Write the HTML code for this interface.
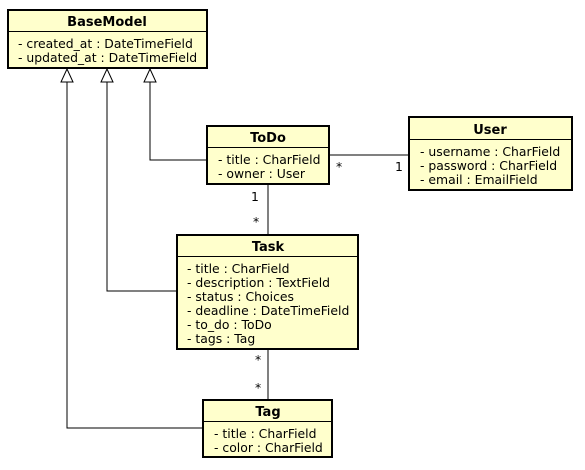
<!DOCTYPE html>
<html><head><style>body{margin:0;background:#fff}svg{display:block}text{font-family:"DejaVu Sans",sans-serif;font-size:12.4px;fill:#000}.h{font-weight:bold;font-size:13px}</style></head><body>
<svg width="585" height="470" viewBox="0 0 585 470">
<g fill="none" stroke="#000" stroke-width="1">
<polyline points="150,82 150,160 207,160"/>
<polyline points="107,82 107,291 177,291"/>
<polyline points="67,82 67,428 203,428"/>
<line x1="329" y1="155" x2="409" y2="155"/>
<line x1="268" y1="184" x2="268" y2="235"/>
<line x1="268" y1="349" x2="268" y2="400"/>
<polygon points="150,69 144,82 156,82" fill="#fff"/>
<polygon points="107,69 101,82 113,82" fill="#fff"/>
<polygon points="67,69 61,82 73,82" fill="#fff"/>
</g>
<g fill="#ffffcc" stroke="#000" stroke-width="2">
<rect x="8" y="10" width="199" height="58"/>
<rect x="207" y="126" width="122" height="58"/>
<rect x="409" y="117" width="163" height="73"/>
<rect x="177" y="235" width="181" height="114"/>
<rect x="203" y="400" width="129" height="57"/>
</g>
<g stroke="#000" stroke-width="1">
<line x1="8" y1="31.5" x2="207" y2="31.5"/>
<line x1="207" y1="147.5" x2="329" y2="147.5"/>
<line x1="409" y1="139.5" x2="572" y2="139.5"/>
<line x1="177" y1="256.5" x2="358" y2="256.5"/>
<line x1="203" y1="421.5" x2="332" y2="421.5"/>
</g>
<text class="h" x="107" y="26" text-anchor="middle">BaseModel</text>
<text x="18" y="48">- created_at : DateTimeField</text>
<text x="18" y="62">- updated_at : DateTimeField</text>
<text class="h" x="268" y="142" text-anchor="middle">ToDo</text>
<text x="218" y="164">- title : CharField</text>
<text x="218" y="178">- owner : User</text>
<text class="h" x="490" y="134" text-anchor="middle">User</text>
<text x="420" y="156">- username : CharField</text>
<text x="420" y="170">- password : CharField</text>
<text x="420" y="184">- email : EmailField</text>
<text class="h" x="268" y="251" text-anchor="middle">Task</text>
<text x="187" y="273">- title : CharField</text>
<text x="187" y="287">- description : TextField</text>
<text x="187" y="301">- status : Choices</text>
<text x="187" y="315">- deadline : DateTimeField</text>
<text x="187" y="329">- to_do : ToDo</text>
<text x="187" y="343">- tags : Tag</text>
<text class="h" x="268" y="416" text-anchor="middle">Tag</text>
<text x="214" y="438">- title : CharField</text>
<text x="214" y="452">- color : CharField</text>
<text x="336" y="171">*</text>
<text x="395" y="171">1</text>
<text x="251" y="201">1</text>
<text x="253" y="226">*</text>
<text x="255" y="364">*</text>
<text x="255" y="392">*</text>
</svg>
</body></html>
